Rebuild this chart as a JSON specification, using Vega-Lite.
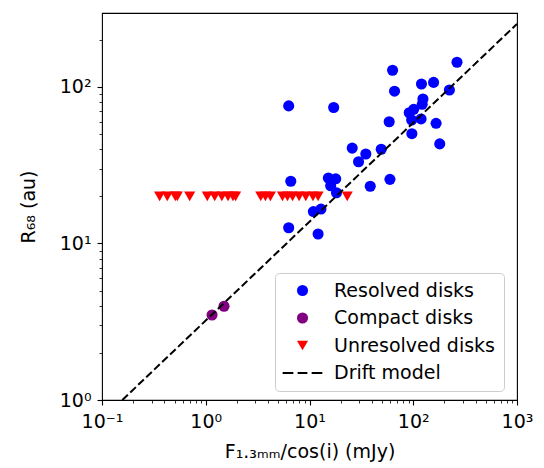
{
  "$schema": "https://vega.github.io/schema/vega-lite/v6.json",
  "width": 415,
  "height": 387,
  "autosize": {"type": "none"},
  "padding": {"left": 102, "top": 13, "right": 27, "bottom": 68},
  "background": "white",
  "config": {
    "view": {"stroke": "black", "strokeWidth": 1.1},
    "font": "DejaVu Sans"
  },
  "datasets": {
    "pts": [
      {"x": 6.3, "y": 75.7, "type": "Resolved disks"},
      {"x": 17.1, "y": 74, "type": "Resolved disks"},
      {"x": 63.2, "y": 128, "type": "Resolved disks"},
      {"x": 66, "y": 94, "type": "Resolved disks"},
      {"x": 264, "y": 144, "type": "Resolved disks"},
      {"x": 120, "y": 104.5, "type": "Resolved disks"},
      {"x": 157, "y": 107, "type": "Resolved disks"},
      {"x": 223, "y": 95.7, "type": "Resolved disks"},
      {"x": 124, "y": 83.8, "type": "Resolved disks"},
      {"x": 122, "y": 77.5, "type": "Resolved disks"},
      {"x": 101, "y": 72, "type": "Resolved disks"},
      {"x": 91.5, "y": 68.5, "type": "Resolved disks"},
      {"x": 96.5, "y": 61.5, "type": "Resolved disks"},
      {"x": 119, "y": 62.5, "type": "Resolved disks"},
      {"x": 58.6, "y": 60, "type": "Resolved disks"},
      {"x": 166, "y": 58.6, "type": "Resolved disks"},
      {"x": 97, "y": 50.3, "type": "Resolved disks"},
      {"x": 180, "y": 43.3, "type": "Resolved disks"},
      {"x": 25.8, "y": 40.7, "type": "Resolved disks"},
      {"x": 49.1, "y": 40, "type": "Resolved disks"},
      {"x": 34.9, "y": 37.3, "type": "Resolved disks"},
      {"x": 29.7, "y": 33.3, "type": "Resolved disks"},
      {"x": 6.6, "y": 25, "type": "Resolved disks"},
      {"x": 59.6, "y": 25.7, "type": "Resolved disks"},
      {"x": 38.5, "y": 23.2, "type": "Resolved disks"},
      {"x": 15.2, "y": 26.2, "type": "Resolved disks"},
      {"x": 17.9, "y": 25.9, "type": "Resolved disks"},
      {"x": 16, "y": 23.4, "type": "Resolved disks"},
      {"x": 18.2, "y": 21.1, "type": "Resolved disks"},
      {"x": 10.9, "y": 16, "type": "Resolved disks"},
      {"x": 12.9, "y": 16.6, "type": "Resolved disks"},
      {"x": 6.3, "y": 12.6, "type": "Resolved disks"},
      {"x": 12.1, "y": 11.5, "type": "Resolved disks"},
      {"x": 1.15, "y": 3.49, "type": "Compact disks"},
      {"x": 1.5, "y": 3.97, "type": "Compact disks"},
      {"x": 0.359, "y": 20, "type": "Unresolved disks"},
      {"x": 0.426, "y": 20, "type": "Unresolved disks"},
      {"x": 0.509, "y": 20, "type": "Unresolved disks"},
      {"x": 0.532, "y": 20, "type": "Unresolved disks"},
      {"x": 0.7, "y": 20, "type": "Unresolved disks"},
      {"x": 1.035, "y": 20, "type": "Unresolved disks"},
      {"x": 1.22, "y": 20, "type": "Unresolved disks"},
      {"x": 1.43, "y": 20, "type": "Unresolved disks"},
      {"x": 1.64, "y": 20, "type": "Unresolved disks"},
      {"x": 1.83, "y": 20, "type": "Unresolved disks"},
      {"x": 1.94, "y": 20, "type": "Unresolved disks"},
      {"x": 3.39, "y": 20, "type": "Unresolved disks"},
      {"x": 3.76, "y": 20, "type": "Unresolved disks"},
      {"x": 4.2, "y": 20, "type": "Unresolved disks"},
      {"x": 5.49, "y": 20, "type": "Unresolved disks"},
      {"x": 6.13, "y": 20, "type": "Unresolved disks"},
      {"x": 6.86, "y": 20, "type": "Unresolved disks"},
      {"x": 7.94, "y": 20, "type": "Unresolved disks"},
      {"x": 9.21, "y": 20, "type": "Unresolved disks"},
      {"x": 10.8, "y": 20, "type": "Unresolved disks"},
      {"x": 12.1, "y": 20, "type": "Unresolved disks"},
      {"x": 23.1, "y": 20, "type": "Unresolved disks"}
    ],
    "drift": [
      {"x": 0.157, "y": 1},
      {"x": 1000, "y": 253}
    ]
  },
  "layer": [
    {
      "data": {"name": "pts"},
      "mark": {"type": "point", "filled": true, "opacity": 1, "strokeWidth": 0},
      "encoding": {
        "x": {
          "field": "x", "type": "quantitative",
          "scale": {"type": "log", "domain": [0.1, 1000], "nice": false},
          "axis": {
            "orient": "bottom",
            "values": [0.1, 1, 10, 100, 1000],
            "labelExpr": "datum.value < 0.5 ? '10⁻¹' : datum.value < 5 ? '10⁰' : datum.value < 50 ? '10¹' : datum.value < 500 ? '10²' : '10³'",
            "grid": false, "domain": false,
            "tickSize": 5, "tickWidth": 1.1, "tickColor": "black",
            "labelFontSize": 19, "labelColor": "black", "labelPadding": 7,
            "labelFlush": false, "labelOverlap": false,
            "title": "F₁.₃ₘₘ/cos(i) (mJy)",
            "titleFontSize": 19, "titleFontWeight": "normal", "titleColor": "black", "titlePadding": 11
          }
        },
        "y": {
          "field": "y", "type": "quantitative",
          "scale": {"type": "log", "domain": [1, 297], "nice": false},
          "axis": {
            "orient": "left",
            "values": [1, 10, 100],
            "labelExpr": "datum.value < 5 ? '10⁰' : datum.value < 50 ? '10¹' : '10²'",
            "grid": false, "domain": false,
            "tickSize": 5, "tickWidth": 1.1, "tickColor": "black",
            "labelFontSize": 19, "labelColor": "black", "labelPadding": 6,
            "labelFlush": false, "labelOverlap": false,
            "title": "R₆₈ (au)",
            "titleFontSize": 19, "titleFontWeight": "normal", "titleColor": "black", "titlePadding": 21
          }
        },
        "color": {
          "field": "type", "type": "nominal",
          "scale": {
            "domain": ["Resolved disks", "Compact disks", "Unresolved disks", "Drift model"],
            "range": ["#0000ff", "#800080", "#ff0000", "black"]
          },
          "legend": {
            "title": null,
            "orient": "none",
            "legendX": 173,
            "legendY": 260,
            "padding": 8,
            "symbolSize": 107,
            "symbolOffset": 10,
            "labelOffset": 22,
            "labelLimit": 400,
            "rowPadding": 7.5,
            "labelFontSize": 19,
            "labelColor": "black",
            "labelFont": "DejaVu Sans",
            "fillColor": "white",
            "strokeColor": "#cccccc",
            "cornerRadius": 4,
            "symbolOpacity": 1
          }
        },
        "shape": {
          "field": "type", "type": "nominal",
          "scale": {
            "domain": ["Resolved disks", "Compact disks", "Unresolved disks", "Drift model"],
            "range": ["circle", "circle", "triangle-down", "M-3.58,-0.19H-1.65V0.19H-3.58ZM-0.88,-0.19H0.88V0.19H-0.88ZM1.65,-0.19H3.58V0.19H1.65Z"]
          }
        },
        "size": {
          "field": "type", "type": "nominal",
          "scale": {
            "domain": ["Resolved disks", "Compact disks", "Unresolved disks", "Drift model"],
            "range": [123, 123, 180, 120]
          },
          "legend": null
        }
      }
    },
    {
      "data": {"name": "drift"},
      "mark": {"type": "line", "color": "black", "strokeWidth": 2, "strokeDash": [7.7, 3.3]},
      "encoding": {
        "x": {
          "field": "x", "type": "quantitative",
          "scale": {"type": "log", "domain": [0.1, 1000], "nice": false},
          "axis": {
            "orient": "bottom",
            "values": [0.2, 0.3, 0.4, 0.5, 0.6, 0.7, 0.8, 0.9, 2, 3, 4, 5, 6, 7, 8, 9, 20, 30, 40, 50, 60, 70, 80, 90, 200, 300, 400, 500, 600, 700, 800, 900],
            "labels": false, "grid": false, "domain": false, "title": null,
            "tickSize": 3, "tickWidth": 0.8, "tickColor": "black"
          }
        },
        "y": {
          "field": "y", "type": "quantitative",
          "scale": {"type": "log", "domain": [1, 297], "nice": false},
          "axis": {
            "orient": "left",
            "values": [2, 3, 4, 5, 6, 7, 8, 9, 20, 30, 40, 50, 60, 70, 80, 90, 200],
            "labels": false, "grid": false, "domain": false, "title": null,
            "tickSize": 3, "tickWidth": 0.8, "tickColor": "black"
          }
        }
      }
    }
  ],
  "resolve": {"axis": {"x": "independent", "y": "independent"}}
}
